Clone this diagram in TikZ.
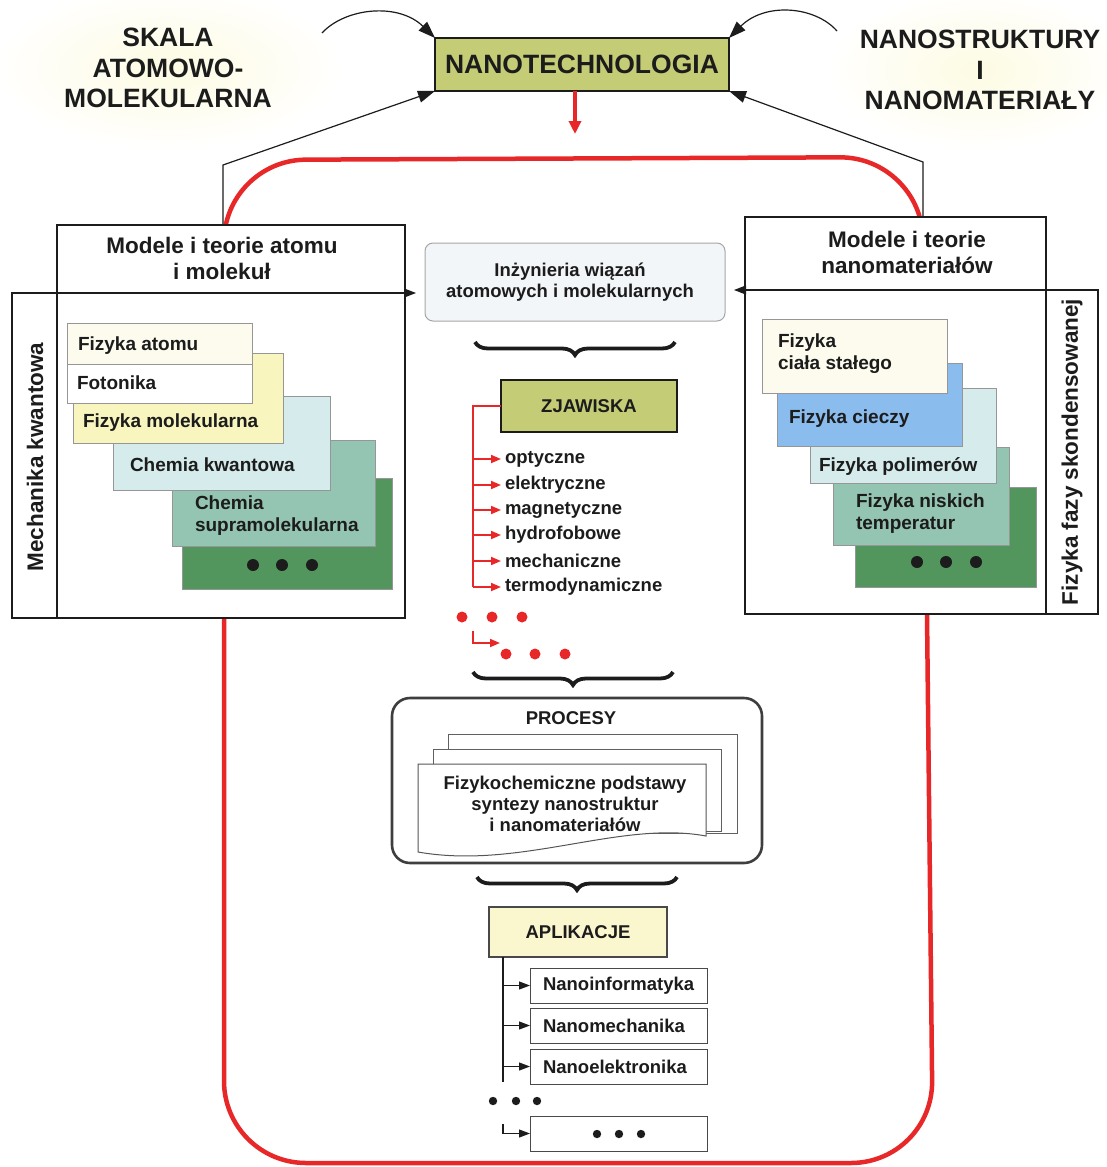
\documentclass[tikz,border=0pt]{standalone}
\usepackage{fontspec}
\setmainfont{Liberation Sans}
\usetikzlibrary{arrows.meta,decorations.pathreplacing,calc}
\definecolor{ink}{RGB}{28,28,28}
\definecolor{olivebox}{RGB}{196,204,118}
\definecolor{aplyel}{RGB}{250,246,205}
\definecolor{cream}{RGB}{252,251,238}
\definecolor{lyel}{RGB}{248,246,190}
\definecolor{lcyan}{RGB}{214,236,236}
\definecolor{tealg}{RGB}{148,196,178}
\definecolor{dgreen}{RGB}{82,150,94}
\definecolor{lblue}{RGB}{138,188,238}
\definecolor{inzfill}{RGB}{243,246,249}
\definecolor{redl}{RGB}{232,40,40}
\definecolor{glow}{RGB}{253,251,226}
\definecolor{cardline}{RGB}{150,150,150}
\begin{document}
\begin{tikzpicture}[x=1pt,y=-1pt,
  hfont/.style={font=\fontsize{26.5}{30.5}\selectfont\bfseries},
  mfont/.style={font=\fontsize{22.5}{26}\selectfont\bfseries},
  cfont/.style={font=\fontsize{19}{22}\selectfont\bfseries},
  sfont/.style={font=\fontsize{18.5}{21}\selectfont\bfseries},
  lbl/.style={text=ink, inner sep=0pt, outer sep=0pt},
  frame/.style={draw=ink, line width=1.2pt, fill=white, inner sep=0pt, outer sep=0pt, anchor=north west},
  conn/.style={draw=ink, line width=1.2pt},
  bigtip/.style={-{Triangle[length=17pt,width=12pt]}},
  midtip/.style={-{Triangle[length=12pt,width=9pt]}},
  smalltip/.style={-{Triangle[length=11pt,width=8pt]}},
  redthin/.style={draw=redl, line width=1.8pt},
  redtip/.style={-{Triangle[length=10pt,width=8pt]}},
  card/.style={draw=cardline, line width=0.9pt, anchor=north west, inner sep=0pt, outer sep=0pt},
  cardtext/.style={lbl, cfont, anchor=west, align=left},
  item/.style={lbl, sfont, anchor=west},
  abox/.style={draw=ink!80, line width=1pt, fill=white, anchor=north west, minimum height=35, text width=151, inner xsep=13, inner ysep=0, outer sep=0pt, align=left, text=ink, sfont},
  brc/.style={draw=ink, line width=3.8pt, decorate, decoration={brace, mirror, amplitude=13pt}},
]
\useasboundingbox (0,0) rectangle (1107,1167);

% soft glows behind the corner titles
\shade[inner color=glow, outer color=white] (168,68) ellipse [x radius=175pt, y radius=82pt];
\shade[inner color=glow, outer color=white] (978,70) ellipse [x radius=150pt, y radius=80pt];

% red frame
\draw[redl, line width=4.5pt, rounded corners=82pt]
  (224,600) -- (224,160) -- (922,157) -- (933,1163) -- (224,1163) -- cycle;

% top titles
\node[lbl,hfont,align=center] (skala) at (168,68) {SKALA\\ATOMOWO-\\MOLEKULARNA};
\node[lbl,hfont,align=center] (nstr) at (980,70) {NANOSTRUKTURY\\I\\NANOMATERIAŁY};
\node[frame, fill=olivebox, minimum width=294, minimum height=53, text=ink, hfont] (nano) at (435,38) {NANOTECHNOLOGIA};

\coordinate (sks) at (322,33);
\draw[conn,bigtip] (sks) .. controls (345,8) and (398,2) .. (nano.north west);
\coordinate (nss) at (837,31);
\draw[conn,bigtip] (nss) .. controls (815,6) and (765,2) .. (nano.north east);

\coordinate (ra) at (575,134);
\draw[redl, line width=3.5pt, -{Triangle[length=13pt,width=12pt]}] (nano.south -| ra) -- (ra);

% left models block
\node[frame, minimum width=348, minimum height=68] (mLt) at (57,225) {};
\node[lbl,mfont,align=center] (mLtxt) at (222,258.5) {Modele i teorie atomu\\i molekuł};
\node[frame, minimum width=393, minimum height=325] (mL) at (12,293) {};
\draw[conn] (mLt.south west) -- (mLt.south west |- mL.south);
\node[lbl,mfont,rotate=90] (mech) at (35,457) {Mechanika kwantowa};

\node[card, fill=dgreen, minimum width=210, minimum height=111] (Ld) at (182,478) {};
\fill[ink] (253,565) circle (6pt) (282,565) circle (6pt) (312,565) circle (6pt);
\node[card, fill=tealg, minimum width=203, minimum height=106] (Ls) at (172,440) {};
\node[cardtext] (Lst) at (195,516) {Chemia\\supramolekularna};
\node[card, fill=lcyan, minimum width=217, minimum height=94] (Lk) at (113,396) {};
\node[cardtext] (Lkt) at (130,465) {Chemia kwantowa};
\node[card, fill=lyel, minimum width=210, minimum height=90] (Lm) at (73,353) {};
\node[cardtext] (Lmt) at (83,423) {Fizyka molekularna};
\node[card, fill=white, minimum width=185, minimum height=39] (Lf) at (67,364) {};
\node[cardtext] (Lft) at (77,383) {Fotonika};
\node[card, fill=cream, minimum width=185, minimum height=41] (La) at (67,323) {};
\node[cardtext] (Lat) at (78,346) {Fizyka atomu};

% right models block
\node[frame, minimum width=301, minimum height=73] (mRt) at (745,217) {};
\node[lbl,mfont,align=center] (mRtxt) at (907,252.5) {Modele i teorie\\nanomateriałów};
\node[frame, minimum width=353, minimum height=324] (mR) at (745,290) {};
\draw[conn] (mRt.south east) -- (mRt.south east |- mR.south);
\node[lbl,mfont,rotate=90] (ffs) at (1072,452) {Fizyka fazy skondensowanej};

\node[card, fill=dgreen, minimum width=181, minimum height=100] (Rd) at (855,487) {};
\fill[ink] (917,562) circle (6pt) (946,562) circle (6pt) (976,562) circle (6pt);
\node[card, fill=tealg, minimum width=176, minimum height=98] (Rn) at (833,447) {};
\node[cardtext] (Rnt) at (856,513.5) {Fizyka niskich\\temperatur};
\node[card, fill=lcyan, minimum width=186, minimum height=95] (Rp) at (810,388) {};
\node[cardtext] (Rpt) at (819,466) {Fizyka polimerów};
\node[card, fill=lblue, minimum width=185, minimum height=83] (Rc) at (777,363) {};
\node[cardtext] (Rct) at (789,419) {Fizyka cieczy};
\node[card, fill=cream, minimum width=185, minimum height=74] (Rs) at (762,319) {};
\node[cardtext] (Rst) at (778,354) {Fizyka\\ciała stałego};

% connectors from the model blocks up to NANOTECHNOLOGIA
\coordinate (lb) at (223,225); \coordinate (lk) at (223,165);
\draw[conn,bigtip] (lb) -- (lk) -- (nano.south west);
\coordinate (rb) at (923,217); \coordinate (rk) at (923,162);
\draw[conn,bigtip] (rb) -- (rk) -- (nano.south east);

% centre column
\node[draw=gray!70, line width=1pt, fill=inzfill, rounded corners=8pt, minimum width=300, minimum height=78, anchor=north west, inner sep=0pt, outer sep=0pt] (inz) at (425,243) {};
\node[lbl,sfont,align=center] (inzt) at (570,282.5) {Inżynieria wiązań\\atomowych i molekularnych};

\draw[conn,midtip,shorten >=9pt] (mL.north west) -- (inz.west |- mL.north west);
\draw[conn,midtip,shorten >=9pt] (mR.north east) -- (inz.east |- mR.north east);

\coordinate (b1l) at (475,342); \coordinate (b1r) at (675,342);
\draw[brc] (b1l) -- (b1r);

\node[frame, fill=olivebox, minimum width=176, minimum height=52, text=ink, sfont] (zj) at (501,380) {ZJAWISKA};
\coordinate (zb) at (473,587);
\draw[redthin] (zj.west) -| (zb);
\node[item] (z1) at (505,459) {optyczne};
\node[item] (z2) at (505,485) {elektryczne};
\node[item] (z3) at (505,510) {magnetyczne};
\node[item] (z4) at (505,535) {hydrofobowe};
\node[item] (z5) at (505,561) {mechaniczne};
\node[item] (z6) at (505,587) {termodynamiczne};
\foreach \n in {z1,z2,z3,z4,z5,z6}
  \draw[redthin,redtip,shorten >=4pt] (zb |- \n.west) -- (\n.west);
\fill[redl] (462,617) circle (5.5pt) (492,617) circle (5.5pt) (522,617) circle (5.5pt);
\coordinate (re1) at (473,631); \coordinate (re2) at (500,643);
\draw[redthin,redtip] (re1) |- (re2);
\fill[redl] (506,654) circle (5.5pt) (535,654) circle (5.5pt) (565,654) circle (5.5pt);

\coordinate (b2l) at (473,672); \coordinate (b2r) at (673,672);
\draw[brc] (b2l) -- (b2r);

\node[draw=ink!85, line width=2.6pt, rounded corners=18pt, fill=white, minimum width=370, minimum height=165, anchor=north west, inner sep=0pt, outer sep=0pt] (proc) at (392,698) {};
\node[lbl,sfont] (proct) at (571,718) {PROCESY};
\node[draw=ink!70, line width=1pt, fill=white, minimum width=289, minimum height=99, anchor=north west, inner sep=0pt] (doc3) at (448,734) {};
\node[draw=ink!70, line width=1pt, fill=white, minimum width=288, minimum height=82, anchor=north west, inner sep=0pt] (doc2) at (433,749) {};
\draw[draw=ink!75, line width=1pt, fill=white] (418,764) -- (706,764) -- (706,836)
  .. controls (620,820) and (520,870) .. (418,852) -- cycle;
\node[lbl,sfont,align=center] (doct) at (565,804) {Fizykochemiczne podstawy\\syntezy nanostruktur\\i nanomateriałów};

\coordinate (b3l) at (477,877); \coordinate (b3r) at (677,877);
\draw[brc] (b3l) -- (b3r);

\node[draw=ink!80, line width=1.2pt, fill=aplyel, anchor=north west, minimum width=178, minimum height=50, inner sep=0pt, outer sep=0pt, text=ink, sfont] (apl) at (489,907) {APLIKACJE};
\coordinate (atop) at (503,957); \coordinate (abot) at (503,1082);
\draw[conn] (atop) -- (abot);
\node[abox] (a1) at (530,968) {Nanoinformatyka};
\node[abox] (a2) at (530,1008) {Nanomechanika};
\node[abox] (a3) at (530,1049) {Nanoelektronika};
\node[abox] (a4) at (530,1116) {};
\foreach \n in {a1,a2,a3}
  \draw[conn,smalltip] (atop |- \n.west) -- (\n.west);
\fill[ink] (493,1101) circle (4.2pt) (516,1101) circle (4.2pt) (537,1101) circle (4.2pt);
\coordinate (ael) at (503,1124);
\draw[conn,smalltip] (ael) |- (a4.west);
\fill[ink] (597,1134) circle (4.2pt) (619,1134) circle (4.2pt) (641,1134) circle (4.2pt);
\end{tikzpicture}
\end{document}
